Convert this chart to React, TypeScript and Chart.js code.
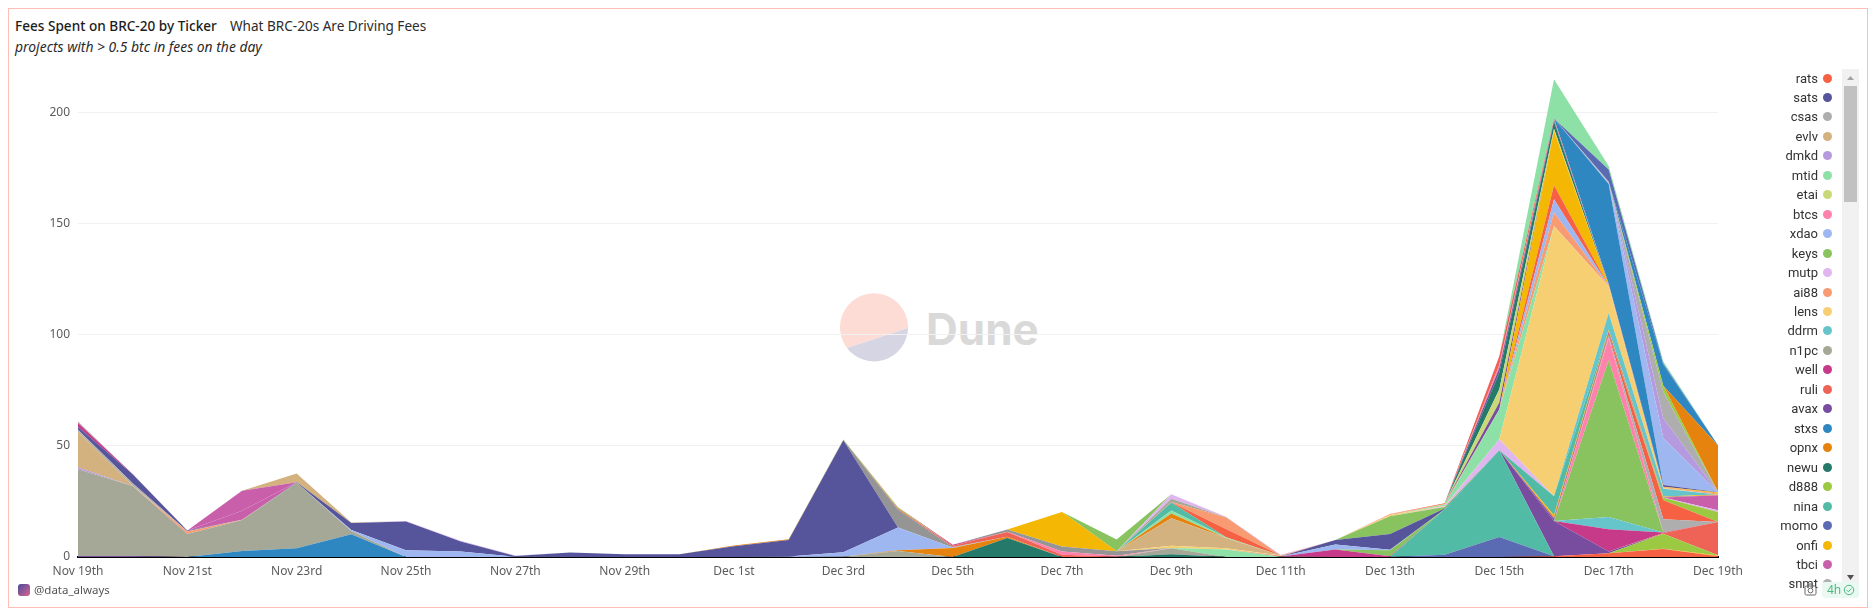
import React, { useEffect, useRef } from "react";
import { Chart, registerables } from "chart.js";

Chart.register(...registerables);

const days = ["Nov 19th","Nov 20th","Nov 21st","Nov 22nd","Nov 23rd","Nov 24th","Nov 25th","Nov 26th","Nov 27th","Nov 28th","Nov 29th","Nov 30th","Dec 1st","Dec 2nd","Dec 3rd","Dec 4th","Dec 5th","Dec 6th","Dec 7th","Dec 8th","Dec 9th","Dec 10th","Dec 11th","Dec 12th","Dec 13th","Dec 14th","Dec 15th","Dec 16th","Dec 17th","Dec 18th","Dec 19th"];

const legendNames = ["rats","sats","csas","evlv","dmkd","mtid","etai","btcs","xdao","keys","mutp","ai88","lens","ddrm","n1pc","well","ruli","avax","stxs","opnx","newu","d888","nina","momo","onfi","tbci","snmt"];
const legendColors = ["#f66043","#56559b","#aeaeae","#d3b27f","#b59ae0","#8de0a6","#c9d97a","#ff82ad","#9fb7f0","#88c35f","#dfb6ef","#f89b72","#f5cf72","#66c4cb","#a6a897","#c73a8a","#ef6356","#784c9f","#2f87c2","#e6830f","#25796a","#9bca42","#52bba5","#5b6bb3","#f4b704","#c95fab","#b0b0b0"];

// Values in BTC per day, one list per stacked band (bottom of the stack first).
//            Nov 19 ........................ | Nov 29 ... Dec 8 ................ | Dec 9 ................ Dec 19
const ratsLow = [0,0,0,0,0,0,0,0,0,0, 0,0,0,0,0,0,0,0,0,0, 0,0,0,0,0,0,0,.3,1.7,3.6,.3];
const onfiLow = [0,0,0,0,0,0,0,0,0,0, 0,0,0,0,0,0,0,0,0,0, 0,0,0,0,0,0,0,0,0,.1,.4];
const d888Low = [0,0,0,0,0,0,0,0,0,0, 0,0,0,0,0,0,0,0,0,0, 0,0,0,0,0,0,0,0,0,6.8,.1];
const momo = [0,0,0,0,0,0,0,0,0,0, 0,0,0,0,0,0,0,0,0,0, 0,0,0,0,0,1,9,0,0,0,0];
const nina = [0,0,0,0,0,0,0,0,0,0, 0,0,0,0,0,0,0,0,0,0, 0,0,0,0,0,20.5,39,0,0,0,0];
const stxsLow = [0,0,0,2.7,3.9,10.2,0,0,0,0, 0,0,0,0,0,0,0,0,0,0, 0,0,0,0,0,0,0,0,0,0,0];
const avax = [.5,.4,0,0,0,0,0,0,0,0, 0,0,0,0,0,0,0,0,0,0, 0,0,0,0,0,0,0,15.9,.8,0,0];
const ruli = [0,0,0,0,0,0,0,0,0,0, 0,0,0,0,0,0,0,0,0,0, 0,0,0,0,0,0,0,0,0,.3,15];
const newu = [0,0,0,0,0,0,0,0,0,0, 0,0,0,0,0,0,0,8.6,0,0, 1.2,0,0,0,0,0,0,0,0,0,0];
const n1pc = [39,31.5,10.3,13.9,29.5,1.5,0,0,0,0, 0,0,0,0,.1,2.7,0,0,0,0, 2.7,0,0,0,0,0,0,0,0,0,0];
const mtidLow = [0,0,0,0,0,0,0,0,0,0, 0,0,0,0,0,0,0,0,0,0, .2,3.4,.1,0,0,0,0,0,0,0,0];
const well = [0,0,0,0,0,0,0,0,0,0, 0,0,0,0,0,0,0,0,0,0, 0,0,.1,3.4,.3,0,0,0,10,.2,0];
const ddrm = [0,0,0,0,0,0,0,0,0,0, 0,0,0,0,0,0,0,0,0,0, 0,0,0,0,0,0,0,0,5.5,0,0];
const keys = [0,0,0,0,0,0,0,0,0,0, 0,0,0,0,0,0,0,0,0,0, 0,0,0,0,2.7,0,0,0,70.5,0,0];
const btcs = [0,0,0,0,0,0,0,0,0,0, 0,0,0,0,0,0,0,0,0,0, 0,0,0,0,0,0,0,0,10,0,0];
const csasMid = [0,0,0,0,0,0,0,0,0,0, 0,0,0,0,0,0,0,0,0,0, 0,0,0,0,0,0,0,0,1,6,0];
const ratsMid = [0,0,0,0,0,0,0,0,0,0, 0,0,0,0,0,0,0,0,0,0, 0,0,0,0,0,0,0,0,1,8.5,0];
const opnxDec5 = [0,0,0,0,0,0,0,0,0,0, 0,0,0,0,0,.3,4,.5,0,0, 0,0,0,0,0,0,0,0,0,0,0];
const xdaoLow = [0,0,0,0,0,.4,3,2.5,.1,0, 0,0,0,.2,2,10.3,.3,0,0,0, 0,0,0,2.2,.3,0,0,0,0,0,0];
const ai88Nov = [0,0,1.2,.2,0,0,0,0,0,0, 0,0,0,0,0,0,0,0,0,0, 0,0,0,0,0,0,0,0,0,0,0];
const dmkdNov = [.8,0,0,0,0,0,0,0,0,0, 0,0,0,0,0,0,0,0,0,0, 0,0,0,0,0,0,0,0,0,0,0];
const evlvNov = [16,.3,0,0,0,0,0,0,0,0, 0,0,0,0,0,0,0,0,0,0, 0,0,0,0,0,0,0,0,0,0,0];
const csasNov = [1,1,.1,0,0,0,0,0,0,0, 0,0,0,0,0,0,0,0,0,0, 0,0,0,0,0,0,0,0,0,0,0];
const sats = [1.2,4,.3,0,.2,3.2,13,4.5,.3,2, 1.2,1.2,4.8,7.5,50.4,0,0,0,0,0, 0,0,0,2,7,.3,0,0,0,0,0];
const opnxDec1 = [0,0,0,0,0,0,0,0,0,0, 0,0,.4,.3,0,0,0,0,0,0, 0,0,0,0,0,0,0,0,0,0,0];
const wellNov = [1.8,.2,0,0,0,0,0,0,0,0, 0,0,0,0,0,0,0,0,0,0, 0,0,0,0,0,0,0,0,0,0,0];
const csasTop = [.7,0,0,0,0,0,0,0,0,0, 0,0,0,0,0,0,0,0,0,0, 0,0,0,0,0,0,0,0,0,0,0];
const mutpNov = [0,0,0,0,0,0,.2,.3,.3,0, 0,0,0,0,0,0,0,0,0,0, 0,0,0,0,0,0,0,0,0,0,0];
const tbciA = [0,0,0,4,0,0,0,0,0,0, 0,0,0,0,0,0,0,0,0,0, 0,0,0,0,0,0,0,0,0,0,0];
const tbciB = [0,0,0,9,0,0,0,0,0,0, 0,0,0,0,0,0,0,0,0,0, 0,0,0,0,0,0,0,0,0,0,0];
const evlvB = [0,0,0,0,4,.2,0,0,0,0, 0,0,0,0,0,0,0,0,0,0, 0,0,0,0,0,0,0,0,0,0,0];
const greyDec4 = [0,0,0,0,0,0,0,0,0,0, 0,0,0,0,.1,8,.2,0,0,0, 0,0,0,0,0,0,0,0,0,0,0];
const ruliDec6 = [0,0,0,0,0,0,0,0,0,0, 0,0,0,0,0,.4,.6,2.1,1,.1, 0,0,.2,0,0,0,0,0,0,0,0];
const d888Dec4 = [0,0,0,0,0,0,0,0,0,0, 0,0,0,0,.3,.6,0,0,0,0, 0,0,0,0,0,0,0,0,0,0,0];
const wellDec5 = [0,0,0,0,0,0,0,0,0,0, 0,0,0,0,0,.1,.4,0,0,0, 0,0,0,0,0,0,0,0,0,0,0];
const btcsDec7 = [0,0,0,0,0,0,0,0,0,0, 0,0,0,0,0,0,0,.2,1.5,.5, 0,0,0,0,0,0,0,0,0,0,0];
const greyDec7 = [0,0,0,0,0,0,0,0,0,0, 0,0,0,0,0,0,0,1,2.2,2, 0,0,0,0,0,0,0,0,0,0,0];
const onfiDec7 = [0,0,0,0,0,0,0,0,0,0, 0,0,0,0,0,0,0,0,15.5,0, 0,0,0,0,0,0,0,0,0,0,0];
const lensDec9 = [0,0,0,0,0,0,0,0,0,0, 0,0,0,0,0,0,0,0,0,0, 1,.5,.3,0,0,0,0,0,0,0,0];
const evlv = [0,0,0,0,0,0,0,0,0,0, 0,0,0,0,0,0,0,0,0,0, 12.3,4.6,0,0,0,0,0,0,0,0,0];
const opnxDec9 = [0,0,0,0,0,0,0,0,0,0, 0,0,0,0,0,0,0,0,0,0, 2.2,0,0,0,0,0,0,0,0,0,0];
const mtidDec9 = [0,0,0,0,0,0,0,0,0,0, 0,0,0,0,0,0,0,0,0,0, 1.3,.4,0,0,0,0,0,0,0,0,0];
const ninaDec9 = [0,0,0,0,0,0,0,0,0,0, 0,0,0,0,0,0,0,0,0,0, 3.6,0,0,0,0,0,0,0,0,0,0];
const ratsDec10 = [0,0,0,0,0,0,0,0,0,0, 0,0,0,0,0,0,0,0,0,0, .1,3.7,0,0,0,0,0,0,0,0,0];
const ai88Dec10 = [0,0,0,0,0,0,0,0,0,0, 0,0,0,0,0,0,0,0,0,0, .1,5.3,0,0,0,0,0,0,0,0,0];
const n1pcDec9 = [0,0,0,0,0,0,0,0,0,0, 0,0,0,0,0,0,0,0,0,0, 1.5,0,0,0,0,0,0,0,0,0,0];
const mutpDec9 = [0,0,0,0,0,0,0,0,0,0, 0,0,0,0,0,0,0,0,0,0, 2,.2,.3,0,0,0,0,0,0,0,0];
const keysDec8 = [0,0,0,0,0,0,0,0,0,0, 0,0,0,0,0,0,0,0,0,5.3, 0,0,0,0,0,0,0,0,0,0,0];
const keysDec13 = [0,0,0,0,0,0,0,0,0,0, 0,0,0,0,0,0,0,0,0,0, 0,0,0,0,8,.7,0,0,0,0,0];
const d888Up = [0,0,0,0,0,0,0,0,0,0, 0,0,0,0,0,0,0,0,0,0, 0,0,0,0,0,0,0,0,0,1.2,4.5];
const mutpDec19 = [0,0,0,0,0,0,0,0,0,0, 0,0,0,0,0,0,0,0,0,0, 0,0,0,0,0,0,0,0,0,.1,.7];
const tbciDec19 = [0,0,0,0,0,0,0,0,0,0, 0,0,0,0,0,0,0,0,0,0, 0,0,0,0,0,0,0,0,0,0,6.8];
const momoDec16 = [0,0,0,0,0,0,0,0,0,0, 0,0,0,0,0,0,0,0,0,0, 0,0,0,0,0,0,0,1,.7,.2,0];
const opnxDec16 = [0,0,0,0,0,0,0,0,0,0, 0,0,0,0,0,0,0,0,0,0, 0,0,0,0,0,0,0,.8,.5,0,0];
const onfiDec16 = [0,0,0,0,0,0,0,0,0,0, 0,0,0,0,0,0,0,0,0,0, 0,0,0,0,0,0,0,.8,.5,.2,.3];
const ninaDec16 = [0,0,0,0,0,0,0,0,0,0, 0,0,0,0,0,0,0,0,0,0, 0,0,0,0,0,0,0,8.5,0,0,0];
const ddrmUp = [0,0,0,0,0,0,0,0,0,0, 0,0,0,0,0,0,0,0,0,0, 0,0,0,0,0,0,0,0,7.5,3.5,0];
const mutp = [0,0,0,0,0,0,0,0,0,0, 0,0,0,0,0,0,0,0,0,0, 0,0,0,0,0,.3,5,0,0,0,0];
const lens = [0,0,0,0,0,0,0,0,0,0, 0,0,0,0,0,0,0,0,0,0, 0,0,0,0,.6,.3,0,121.5,12,.3,0];
const mtidDec15 = [0,0,0,0,0,0,0,0,0,0, 0,0,0,0,0,0,0,0,0,0, 0,0,0,0,0,.5,13.5,.2,0,0,0];
const ai88 = [0,0,0,0,0,0,0,0,0,0, 0,0,0,0,0,0,0,0,0,0, 0,0,0,0,.3,.2,0,6,.1,.4,.5];
const xdaoDec16 = [0,0,0,0,0,0,0,0,0,0, 0,0,0,0,0,0,0,0,0,0, 0,0,0,0,0,0,0,6,.1,0,0];
const rats = [0,0,0,0,0,0,0,0,0,0, 0,0,0,0,0,0,0,0,0,0, 0,0,0,0,.2,.4,0,6.3,.1,0,0];
const onfi = [0,0,0,0,0,0,0,0,0,0, 0,0,0,0,0,0,0,0,0,0, 0,0,0,0,0,0,0,24.4,.3,.2,.4];
const satsDec18 = [0,0,0,0,0,0,0,0,0,0, 0,0,0,0,0,0,0,0,0,0, 0,0,0,0,0,0,0,0,0,.8,.1];
const avaxDec15 = [0,0,0,0,0,0,0,0,0,0, 0,0,0,0,0,0,0,0,0,0, 0,0,0,0,0,0,3,0,0,0,0];
const etai = [0,0,0,0,0,0,0,0,0,0, 0,0,0,0,0,0,0,0,0,0, 0,0,0,0,0,0,6,1,0,0,0];
const newuDec15 = [0,0,0,0,0,0,0,0,0,0, 0,0,0,0,0,0,0,0,0,0, 0,0,0,0,0,0,7.5,3.3,.1,0,0];
const momoDec15 = [0,0,0,0,0,0,0,0,0,0, 0,0,0,0,0,0,0,0,0,0, 0,0,0,0,0,0,2,.5,0,0,0];
const btcsDec15 = [0,0,0,0,0,0,0,0,0,0, 0,0,0,0,0,0,0,0,0,0, 0,0,0,0,0,0,1.5,.4,.5,0,0];
const ruliDec15 = [0,0,0,0,0,0,0,0,0,0, 0,0,0,0,0,0,0,0,0,0, 0,0,0,0,0,0,4,.4,0,0,0];
const stxs = [0,0,0,0,0,0,0,0,0,0, 0,0,0,0,0,0,0,0,0,0, 0,0,0,0,0,0,0,0,45,0,0];
const xdao = [0,0,0,0,0,0,0,0,0,0, 0,0,0,0,0,0,0,0,0,0, 0,0,0,0,0,0,0,0,.3,21,0];
const dmkd = [0,0,0,0,0,0,0,0,0,0, 0,0,0,0,0,0,0,0,0,0, 0,0,0,0,0,0,0,0,.3,9,0];
const csas = [0,0,0,0,0,0,0,0,0,0, 0,0,0,0,0,0,0,0,0,0, 0,0,0,0,0,0,0,0,.3,12,0];
const d888 = [0,0,0,0,0,0,0,0,0,0, 0,0,0,0,0,0,0,0,0,0, 0,0,0,0,0,0,0,0,.1,2.7,.1];
const opnx = [0,0,0,0,0,0,0,0,0,0, 0,0,0,0,0,0,0,0,0,0, 0,0,0,0,0,0,0,0,0,0,21];
const stxsTop = [0,0,0,0,0,0,0,0,0,0, 0,0,0,0,0,0,0,0,0,0, 0,0,0,0,0,0,0,0,0,9.5,.1];
const momoTop = [0,0,0,0,0,0,0,0,0,0, 0,0,0,0,0,0,0,0,0,0, 0,0,0,0,0,0,0,0,5.5,.5,0];
const mtid = [0,0,0,0,0,0,0,0,0,0, 0,0,0,0,0,0,0,0,0,0, 0,0,0,0,0,0,0,17.7,1.5,.9,0];

const grey = "#959595";
const stack: [string, number[], string][] = [
  ["rats low", ratsLow, "rats"], ["onfi low", onfiLow, "onfi"], ["d888 low", d888Low, "d888"],
  ["momo", momo, "momo"], ["nina", nina, "nina"], ["stxs low", stxsLow, "stxs"], ["avax", avax, "avax"],
  ["ruli", ruli, "ruli"], ["newu", newu, "newu"], ["n1pc", n1pc, "n1pc"], ["mtid low", mtidLow, "mtid"],
  ["well", well, "well"], ["ddrm", ddrm, "ddrm"], ["keys", keys, "keys"], ["btcs", btcs, "btcs"],
  ["csas mid", csasMid, "csas"], ["rats mid", ratsMid, "rats"], ["opnx dec5", opnxDec5, "opnx"],
  ["xdao low", xdaoLow, "xdao"], ["ai88 nov", ai88Nov, "ai88"], ["dmkd nov", dmkdNov, "dmkd"],
  ["evlv nov", evlvNov, "evlv"], ["csas nov", csasNov, "csas"], ["sats", sats, "sats"],
  ["opnx dec1", opnxDec1, "opnx"], ["well nov", wellNov, "well"], ["csas top", csasTop, "csas"],
  ["mutp nov", mutpNov, "mutp"], ["tbci a", tbciA, "tbci"], ["tbci b", tbciB, "tbci"], ["evlv b", evlvB, "evlv"],
  ["grey dec4", greyDec4, grey], ["ruli dec6", ruliDec6, "ruli"], ["d888 dec4", d888Dec4, "d888"],
  ["well dec5", wellDec5, "well"], ["btcs dec7", btcsDec7, "btcs"], ["grey dec7", greyDec7, grey],
  ["onfi dec7", onfiDec7, "onfi"], ["lens dec9", lensDec9, "lens"],
  ["evlv", evlv, "evlv"], ["opnx dec9", opnxDec9, "opnx"], ["mtid dec9", mtidDec9, "mtid"],
  ["nina dec9", ninaDec9, "nina"], ["rats dec10", ratsDec10, "rats"], ["ai88 dec10", ai88Dec10, "ai88"],
  ["n1pc dec9", n1pcDec9, "n1pc"], ["mutp dec9", mutpDec9, "mutp"], ["keys dec8", keysDec8, "keys"], ["keys dec13", keysDec13, "keys"],
  ["d888 up", d888Up, "d888"], ["mutp dec19", mutpDec19, "mutp"], ["tbci dec19", tbciDec19, "tbci"],
  ["momo dec16", momoDec16, "avax"], ["opnx dec16", opnxDec16, "opnx"], ["onfi dec16", onfiDec16, "onfi"],
  ["nina dec16", ninaDec16, "nina"], ["ddrm up", ddrmUp, "ddrm"], ["mutp", mutp, "mutp"], ["lens", lens, "lens"],
  ["mtid dec15", mtidDec15, "mtid"], ["ai88", ai88, "ai88"], ["xdao dec16", xdaoDec16, "xdao"], ["rats", rats, "rats"],
  ["onfi", onfi, "onfi"], ["sats dec18", satsDec18, "sats"], ["avax dec15", avaxDec15, "avax"], ["etai", etai, "etai"],
  ["newu dec15", newuDec15, "newu"], ["momo dec15", momoDec15, "avax"], ["btcs dec15", btcsDec15, "btcs"],
  ["ruli dec15", ruliDec15, "ruli"], ["stxs", stxs, "stxs"], ["xdao", xdao, "xdao"], ["dmkd", dmkd, "dmkd"],
  ["csas", csas, "csas"], ["d888", d888, "d888"], ["opnx", opnx, "opnx"], ["stxs top", stxsTop, "stxs"],
  ["momo top", momoTop, "momo"], ["mtid", mtid, "mtid"],
];

const colorOf = (k: string) => {
  const i = legendNames.indexOf(k);
  return i >= 0 ? legendColors[i] : k;
};

const UI = '"Noto Sans", sans-serif';

export default function App() {
  const ref = useRef<HTMLCanvasElement>(null);
  useEffect(() => {
    const chart = new Chart(ref.current!, {
      type: "line",
      data: {
        labels: days,
        datasets: stack.map(([label, data, key], i) => ({
          label,
          data,
          backgroundColor: colorOf(key),
          borderWidth: 0,
          pointRadius: 0,
          tension: 0,
          fill: i === 0 ? "origin" : "-1",
        })),
      },
      options: {
        animation: false,
        responsive: false,
        devicePixelRatio: 1,
        layout: { padding: { left: 0, right: 158, top: 57, bottom: 0 } },
        plugins: { legend: { display: false }, tooltip: { enabled: false } },
        scales: {
          x: {
            stacked: true,
            offset: false,
            afterFit: (s: any) => { s.height = 57; },
            grid: { display: false, drawTicks: false },
            border: { color: "#000", width: 2 },
            ticks: {
              autoSkip: false,
              maxRotation: 0,
              minRotation: 0,
              padding: 7,
              color: "#5c5c5c",
              font: { family: UI, size: 12 },
              callback: (_v: any, i: number) => (i % 2 === 0 ? days[i] : ""),
            },
          },
          y: {
            stacked: true,
            min: 0,
            max: 225,
            afterFit: (s: any) => { s.width = 78; },
            grid: { color: "#f1f1f1", drawTicks: false },
            border: { display: false },
            ticks: { stepSize: 50, includeBounds: false, padding: 8, color: "#5c5c5c", font: { family: UI, size: 12 } },
          },
        },
      },
    });
    return () => chart.destroy();
  }, []);

  return (
    <div style={{ position: "absolute", left: 0, top: 0, width: 1876, height: 614, background: "#fff", overflow: "hidden", fontFamily: UI }}>
      <div style={{ position: "absolute", left: 8, top: 8, width: 1860, height: 600, border: "1px solid #ffbdb5", boxSizing: "border-box" }} />
      <div style={{ position: "absolute", left: 15, top: 16, fontSize: 13.6, fontWeight: 500, color: "#1c1c1c", whiteSpace: "nowrap", lineHeight: "20px" }}>Fees Spent on BRC-20 by Ticker</div>
      <div style={{ position: "absolute", left: 230, top: 16, fontSize: 13.55, color: "#2b2b2b", whiteSpace: "nowrap", lineHeight: "20px" }}>What BRC-20s Are Driving Fees</div>
      <div style={{ position: "absolute", left: 15, top: 37, fontSize: 13.9, fontStyle: "italic", color: "#2b2b2b", whiteSpace: "nowrap", lineHeight: "20px" }}>projects with &gt; 0.5 btc in fees on the day</div>

      <svg style={{ position: "absolute", left: 0, top: 0 }} width={1876} height={614}>
        <path d="M847 348 A34 34 0 1 1 908 328 Z" fill="#fddcd5" />
        <path d="M847 348 A34 34 0 0 0 908 328 Z" fill="#d5d5e3" />
        <text x={926} y={345} fontFamily="Inter, sans-serif" fontWeight={700} fontSize={44} fill="#d9d9d9">Dune</text>
      </svg>

      <canvas ref={ref} width={1876} height={614} style={{ position: "absolute", left: 0, top: 0 }} />

      <div style={{ position: "absolute", left: 1740, top: 69, width: 100, height: 519, overflow: "hidden" }}>
        {legendNames.map((n, i) => (
          <div key={n} style={{ position: "absolute", right: 8, top: i * 19.46 - 1, height: 20, display: "flex", alignItems: "center", whiteSpace: "nowrap" }}>
            <span style={{ fontFamily: "Roboto, sans-serif", fontSize: 13, color: "#333", marginRight: 5 }}>{n}</span>
            <span style={{ width: 9, height: 9, borderRadius: "50%", background: legendColors[i], display: "inline-block" }} />
          </div>
        ))}
      </div>

      <div style={{ position: "absolute", left: 1842, top: 69, width: 17, height: 519, background: "#f1f1f1" }} />
      <div style={{ position: "absolute", left: 1844, top: 86, width: 13, height: 116, background: "#c1c1c1" }} />
      <svg style={{ position: "absolute", left: 1842, top: 69 }} width={17} height={519}>
        <path d="M5 11 L8.5 7 L12 11 Z" fill="#a3a3a3" />
        <path d="M5 506 L8.5 511 L12 506 Z" fill="#505050" />
      </svg>

      <svg style={{ position: "absolute", left: 1803, top: 582 }} width={15} height={15}>
        <rect x={2} y={4} width={11} height={9} rx={1.5} fill="none" stroke="#666" strokeWidth={1} />
        <circle cx={7.5} cy={8.5} r={2.4} fill="none" stroke="#666" strokeWidth={1} />
        <path d="M5 4 L6 2 L9 2 L10 4" fill="none" stroke="#666" strokeWidth={1} />
      </svg>
      <div style={{ position: "absolute", left: 1822, top: 582, width: 37, height: 16, borderRadius: 3, background: "#e9f9f1", color: "#4fb883", fontSize: 12, lineHeight: "16px", paddingLeft: 5, boxSizing: "border-box" }}>4h</div>
      <svg style={{ position: "absolute", left: 1843, top: 584 }} width={12} height={12}>
        <circle cx={6} cy={6} r={4.7} fill="none" stroke="#4fb883" strokeWidth={1} />
        <path d="M3.6 6 L5.4 7.8 L8.4 4.4" fill="none" stroke="#4fb883" strokeWidth={1} />
      </svg>

      <svg style={{ position: "absolute", left: 18, top: 584 }} width={12} height={12}>
        <defs>
          <linearGradient id="av" x1="0" y1="0" x2="1" y2="1">
            <stop offset="0" stopColor="#4a4a9c" />
            <stop offset="1" stopColor="#d9648f" />
          </linearGradient>
        </defs>
        <rect width={12} height={12} rx={3} fill="url(#av)" />
      </svg>
      <div style={{ position: "absolute", left: 34, top: 581, fontSize: 11.5, color: "#555", lineHeight: "18px", whiteSpace: "nowrap" }}>@data_always</div>
    </div>
  );
}
